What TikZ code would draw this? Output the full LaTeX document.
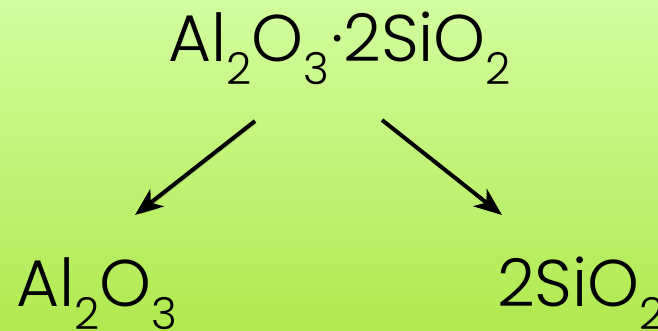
\documentclass[tikz,border=0pt]{standalone}
\usepackage{fontspec}
\setmainfont{Poppins Light}
\usepackage{tikz}
\usetikzlibrary{arrows.meta, calc}
\definecolor{leaftop}{HTML}{D2FD9E}
\definecolor{leafbot}{HTML}{B1E94F}
\newcommand{\subnum}[1]{\raisebox{-23pt}{\fontsize{44}{44}\selectfont #1}}

\begin{document}
\begin{tikzpicture}[
  x=1pt, y=1pt,
  formula/.style={inner sep=0pt, anchor=base west, font=\fontsize{66}{66}\selectfont},
  arr/.style={-{Stealth[length=28pt, width=22pt, inset=8pt]}, line width=4pt, draw=black,
              preaction={draw=black, opacity=0.25, transform canvas={shift={(1.5pt,-2pt)}}}}
]
  \shade[top color=leaftop, bottom color=leafbot] (0,0) rectangle (658,331);
  \useasboundingbox (0,0) rectangle (658,331);

  \node[formula] (clay) at (168,269) {Al\subnum{2}O\subnum{3}\kern2pt·2SiO\subnum{2}};
  \node[formula] (alumina) at (16,24) {Al\subnum{2}O\subnum{3}};
  \node[formula] (silica) at (497,24) {2SiO\subnum{2}};

  \draw[arr] ($(clay.base west)+(87,-59)$) -- ($(alumina.base west)+(119,92)$);
  \draw[arr] ($(clay.base west)+(214,-58)$) -- ($(silica.base west)+(5,92)$);
\end{tikzpicture}
\end{document}
